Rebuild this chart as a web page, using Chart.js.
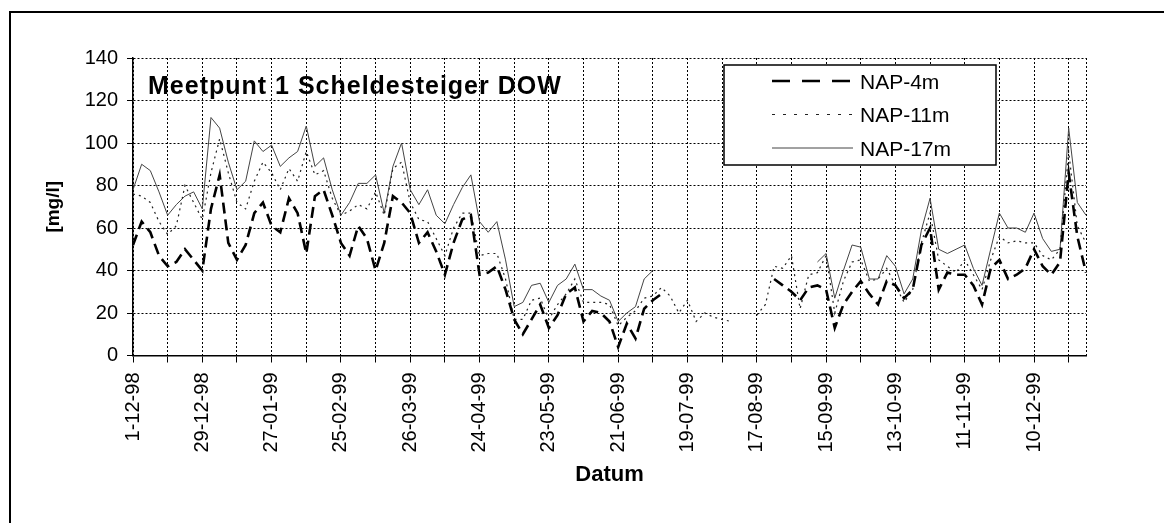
<!DOCTYPE html>
<html>
<head>
<meta charset="utf-8">
<script src="https://cdn.jsdelivr.net/npm/chart.js@4.4.1/dist/chart.umd.min.js"></script>
<style>
  html, body { margin: 0; padding: 0; background: #fff; }
  #wrap { position: relative; width: 1164px; height: 523px; }
</style>
</head>
<body>
<div id="wrap"><canvas id="c" width="1164" height="523"></canvas></div>
<script>
// tick labels on the date axis (one label every second tick)
const tickLabels = ['1-12-98', '29-12-98', '27-01-99', '25-02-99', '26-03-99', '24-04-99', '23-05-99',
  '21-06-99', '19-07-99', '17-08-99', '15-09-99', '13-10-99', '11-11-99', '10-12-99'];

// measurements [mg/l], 4 samples per axis tick
const nap4 = [52, 63, 58, 47, 42, 44, 50, 45, 40, 69, 85, 53, 45, 52, 67, 72, 61, 58,
  74, 67, 48, 75, 78, 66, 53, 47, 61, 55, 40, 53, 75, 72, 67, 53, 58, 49,
  38, 53, 64, 66, 38, 39, 42, 31, 17, 10, 17, 24, 13, 19, 29, 32, 16, 21,
  20, 16, 4, 15, 8, 22, 26, 29, null, null, null, null, null, null, null, null,
  null, null, null, null, 36, 33, 30, 26, 32, 33, 31, 13, 24, 30, 35, 29, 24, 35, 33, 27,
  31, 52, 60, 31, 39, 38, 38, 33, 24, 41, 45, 36, 38, 41, 50, 42, 38, 44, 86, 56, 39];

const nap11 = [76, 75, 72, 63, 57, 61, 80, 72, 64, 86, 102, 86, 72, 69, 82, 91, 86, 78,
  88, 82, 96, 85, 87, 74, 66, 68, 71, 69, 77, 66, 88, 91, 72, 64, 63, 55,
  47, 60, 67, 67, 47, 48, 48, 36, 17, 17, 26, 27, 17, 24, 29, 36, 25, 25,
  25, 24, 14, 18, 21, 27, 28, 32, 28, 20, 26, 16, 20, 18, 17, 16, null, null,
  19, 24, 42, 41, 47, 22, 38, 39, 47, 20, 35, 44, 45, 35, 36, 41, 33, 25,
  31, 53, 67, 45, 42, 39, 45, 38, 31, 45, 56, 53, 54, 53, 53, 47, 45, 50, 96, 61, 53];

const nap17 = [78, 90, 87, 77, 66, 71, 75, 77, 69, 112, 107, 91, 78, 82, 101, 96, 99, 89,
  93, 96, 108, 89, 93, 78, 66, 72, 81, 81, 85, 67, 89, 100, 78, 71, 78, 66,
  62, 71, 79, 85, 63, 58, 63, 45, 23, 25, 33, 34, 25, 33, 36, 43, 31, 31,
  28, 26, 16, 20, 23, 36, 40, null, null, null, null, null, null, null, null, null,
  null, null, null, null, null, null, null, null, null, 44, 48, 27, 40, 52, 51, 36, 36, 47, 42, 29,
  36, 59, 74, 50, 48, 50, 52, 41, 33, 50, 67, 60, 60, 58, 67, 55, 49, 50, 107, 72, 66];

const samples = nap17.map((_, i) => String(i));
const FONT = '"Liberation Sans", Arial, Helvetica, sans-serif';
const TICK_EVERY = 4;
const GRID = '#000';
const GRID_DASH = [2, 2];

const frame = {
  id: 'frame',
  beforeDraw(chart) {
    const { ctx, width, height } = chart;
    ctx.save();
    ctx.fillStyle = '#fff';
    ctx.fillRect(0, 0, width, height);
    ctx.strokeStyle = '#000';
    ctx.lineWidth = 2;
    ctx.beginPath();
    ctx.moveTo(10, height);
    ctx.lineTo(10, 12);
    ctx.lineTo(width, 12);
    ctx.stroke();
    ctx.restore();
  },
  afterDraw(chart) {
    const { ctx } = chart;
    ctx.save();
    // title inside the plot
    ctx.fillStyle = '#000';
    ctx.font = 'bold 25px ' + FONT;
    ctx.letterSpacing = '1px';
    ctx.textBaseline = 'alphabetic';
    ctx.fillText('Meetpunt 1 Scheldesteiger DOW', 148, 94);
    ctx.letterSpacing = '0px';

    // legend box
    const x = 724, y = 65, w = 272, h = 100;
    ctx.fillStyle = '#fff';
    ctx.fillRect(x, y, w, h);
    ctx.strokeStyle = '#000';
    ctx.lineWidth = 1.5;
    ctx.strokeRect(x, y, w, h);
    chart.data.datasets.forEach((ds, i) => {
      const ly = y + 16 + i * 33.5;
      ctx.beginPath();
      ctx.setLineDash(ds.legendDash || ds.borderDash || []);
      ctx.lineWidth = ds.borderWidth;
      ctx.strokeStyle = ds.borderColor;
      ctx.moveTo(772, ly);
      ctx.lineTo(853, ly);
      ctx.stroke();
      ctx.setLineDash([]);
      ctx.fillStyle = '#000';
      ctx.font = '21px ' + FONT;
      ctx.fillText(ds.label, 860, ly + 7.5);
    });
    ctx.restore();
  }
};

new Chart(document.getElementById('c'), {
  type: 'line',
  data: {
    labels: samples,
    datasets: [
      { label: 'NAP-4m', data: nap4, borderColor: '#000', borderWidth: 2.6, borderDash: [11, 6], legendDash: [18, 12] },
      { label: 'NAP-11m', data: nap11, borderColor: '#222', borderWidth: 1.2, borderDash: [2, 4], legendDash: [3, 8] },
      { label: 'NAP-17m', data: nap17, borderColor: '#444', borderWidth: 1 }
    ]
  },
  options: {
    responsive: false,
    animation: false,
    spanGaps: false,
    elements: { point: { radius: 0 }, line: { tension: 0 } },
    layout: { padding: { top: 58, right: 78, left: 0, bottom: 0 } },
    plugins: { legend: { display: false }, tooltip: { enabled: false } },
    scales: {
      x: {
        type: 'category',
        afterBuildTicks: (scale) => {
          const last = samples.length - 1;
          scale.ticks = scale.ticks.filter(t => t.value % TICK_EVERY === 0 || t.value === last);
        },
        afterFit: (scale) => { scale.height = 523 - 355.5; },
        grid: {
          color: GRID,
          lineWidth: 1,
          tickLength: 7,
          tickColor: (c) => (c.tick && c.tick.value % TICK_EVERY === 0 ? '#000' : 'rgba(0,0,0,0)')
        },
        border: { display: true, color: '#000', width: 1.5, dash: GRID_DASH },
        ticks: {
          autoSkip: false,
          minRotation: 90,
          maxRotation: 90,
          padding: 10,
          color: '#000',
          font: { family: FONT, size: 20 },
          callback: (value) => (value % (2 * TICK_EVERY) === 0 ? tickLabels[value / (2 * TICK_EVERY)] : '')
        },
        title: {
          display: true,
          text: 'Datum',
          color: '#000',
          font: { family: FONT, size: 22, weight: 'bold' },
          padding: { top: 35, bottom: 35 }
        }
      },
      y: {
        min: 0,
        max: 140,
        afterFit: (scale) => { scale.width = 133; },
        grid: { color: GRID, lineWidth: 1, tickLength: 6, tickColor: '#000' },
        border: { display: true, color: '#000', width: 1.5, dash: GRID_DASH },
        ticks: {
          stepSize: 20,
          padding: 9,
          color: '#000',
          font: { family: FONT, size: 20 }
        },
        title: {
          display: true,
          text: '[mg/l]',
          color: '#000',
          font: { family: FONT, size: 19, weight: 'bold' },
          padding: { top: 42, bottom: 42 }
        }
      }
    }
  },
  plugins: [frame]
});
</script>
</body>
</html>
